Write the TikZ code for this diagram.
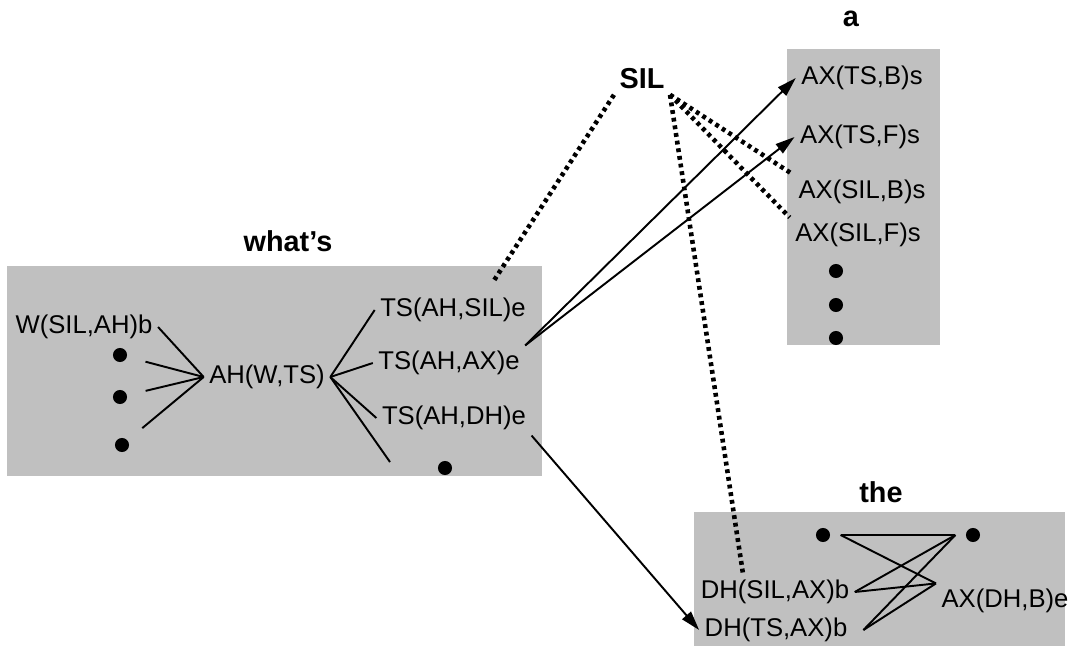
\documentclass[tikz,border=0pt]{standalone}
\usepackage{fontspec}
\setmainfont{Liberation Sans}
\usepackage{tikz}
\usetikzlibrary{calc,positioning,arrows.meta}
\definecolor{boxgray}{HTML}{C0C0C0}
\tikzstyle{phon}   = [font=\fontsize{14.6}{17}\selectfont, inner sep=3pt]
\tikzstyle{word}   = [font=\fontsize{16.4}{19}\selectfont\bfseries, inner sep=3pt]
\tikzstyle{bullet} = [circle, fill=black, minimum size=8pt, inner sep=0pt, outer sep=6pt]
\tikzstyle{tie}    = [line width=1.1pt]
\tikzstyle{arrow}  = [line width=1.1pt, -{Triangle[length=11pt,width=6.5pt]}]
\tikzstyle{silent} = [line width=2.6pt, dash pattern=on 2.2pt off 2.2pt]

\begin{document}
\begin{tikzpicture}[x=0.02cm, y=-0.02cm]
	\useasboundingbox (0,0) rectangle (1078,655);

	\fill[boxgray] (7,266) rectangle (542,476);
	\fill[boxgray] (787,49) rectangle (940,345);
	\fill[boxgray] (694,512) rectangle (1065,646);

	\node[word] (whats) at (288,241) {what’s};
	\node[word] (a) at (851,19) {a};
	\node[word] (the) at (881,492) {the};
	\node[word] (sil) at (642,79) {SIL};

	\node[phon] (wsil) at (84,327) {W(SIL,AH)b};
	\node[bullet] (d1) at (120,355) {};
	\node[bullet] (d2) at (120,397) {};
	\node[bullet] (d3) at (122,445) {};
	\node[phon] (ah) at (267,377) {AH(W,TS)};
	\node[phon] (ts1) at (453,310) {TS(AH,SIL)e};
	\node[phon] (ts2) at (449,363) {TS(AH,AX)e};
	\node[phon] (ts3) at (454,418) {TS(AH,DH)e};
	\node[bullet] (d4) at (445,468) {};
	\coordinate (tsrest) at (390,462);
	\coordinate (silend) at (493,282);

	\node[phon] (ax1) at (862,78) {AX(TS,B)s};
	\node[phon] (ax2) at (860,137) {AX(TS,F)s};
	\node[phon] (ax3) at (862,192) {AX(SIL,B)s};
	\node[phon] (ax4) at (858,235) {AX(SIL,F)s};
	\node[bullet] (d5) at (836,271) {};
	\node[bullet] (d6) at (836,305) {};
	\node[bullet] (d7) at (836,338) {};

	\node[bullet] (d8) at (823,535) {};
	\node[bullet] (d9) at (973,535) {};
	\node[phon] (dhsil) at (775,592) {DH(SIL,AX)b};
	\node[phon] (dhts) at (776,630) {DH(TS,AX)b};
	\node[phon] (axdh) at (1005,601) {AX(DH,B)e};

	\draw[tie] (wsil.east) -- (ah.west);
	\draw[tie, shorten <=5pt] (d1) -- (ah.west);
	\draw[tie, shorten <=5pt] (d2) -- (ah.west);
	\draw[tie, shorten <=5pt] (d3) -- (ah.west);
	\draw[tie] (ah.east) -- (ts1.west);
	\draw[tie] (ah.east) -- (ts2.west);
	\draw[tie] (ah.east) -- (ts3.west);
	\draw[tie] (ah.east) -- (tsrest);

	\draw[arrow] (ts2.north east) -- (ax1.west);
	\draw[arrow] (ts2.north east) -- (ax2.west);
	\draw[arrow] (ts3.south east) -- (dhts.west);

	\draw[silent] (sil.south west) -- (silend);
	\draw[silent] (sil.south east) -- (ax3.north west);
	\draw[silent] (sil.south east) -- (ax4.north west);
	\draw[silent] (sil.south east) -- ($(dhsil.north west)!0.6!(dhsil.north)$);

	\draw[tie] (d8.east) -- (d9.west);
	\draw[tie] (d8.east) -- (axdh.north west);
	\draw[tie] (d9.west) -- (dhsil.east);
	\draw[tie] (d9.west) -- ([xshift=6pt]dhts.east);
	\draw[tie] (dhsil.east) -- (axdh.north west);
	\draw[tie] ([xshift=6pt]dhts.east) -- (axdh.north west);
\end{tikzpicture}
\end{document}
